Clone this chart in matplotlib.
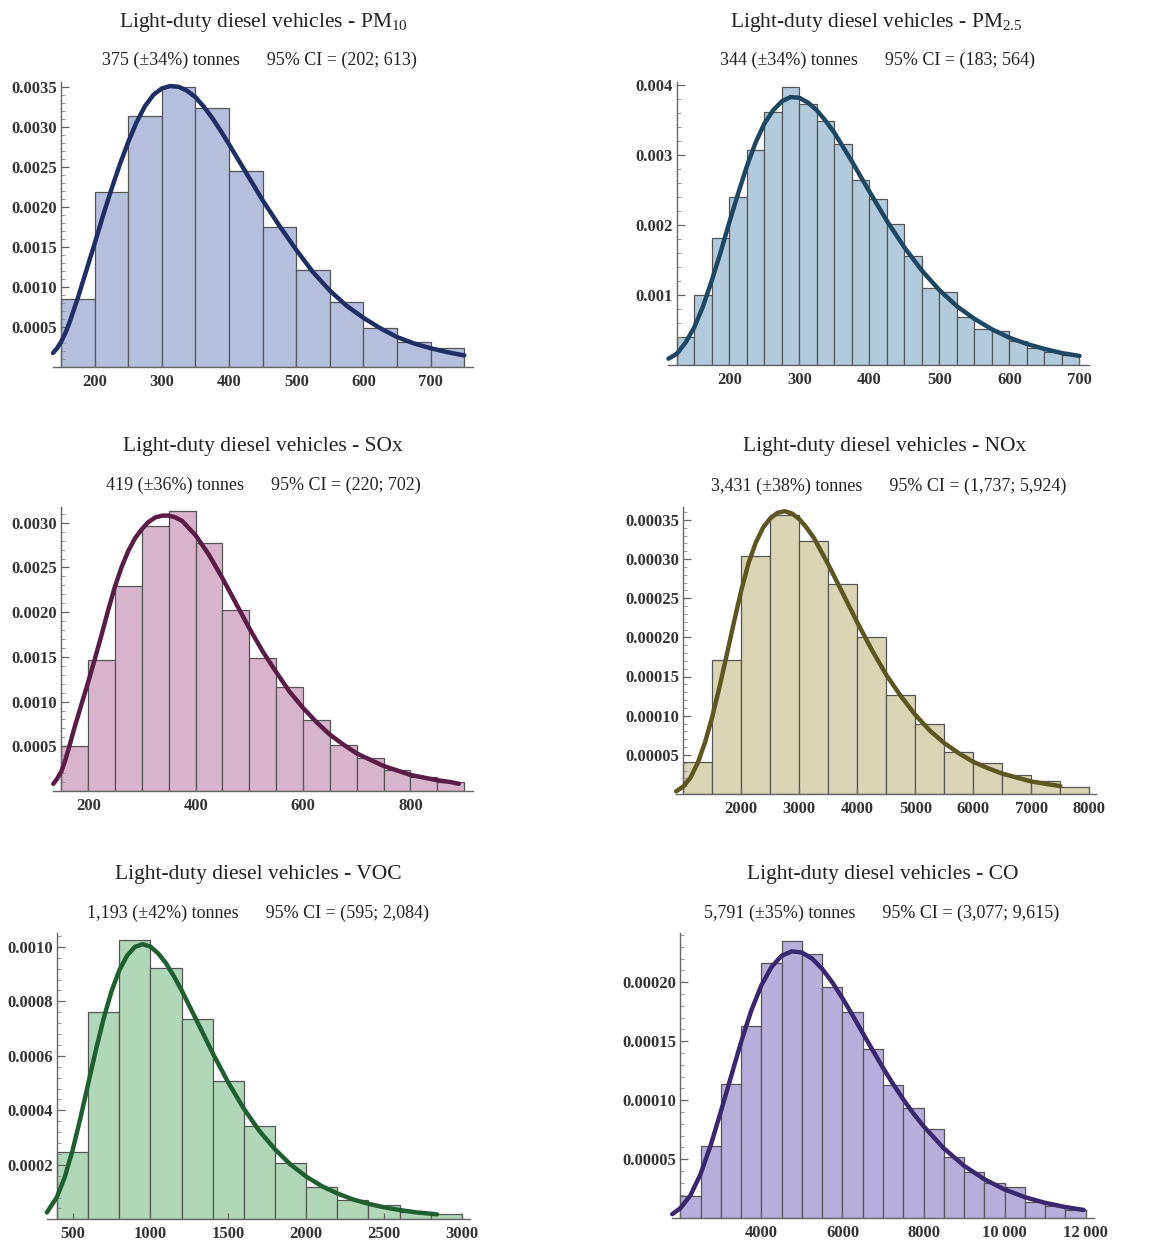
import matplotlib
matplotlib.use("Agg")
import matplotlib.pyplot as plt
import numpy as np
from matplotlib.ticker import AutoMinorLocator, FixedLocator

plt.rcParams['font.family'] = ['Liberation Serif', 'DejaVu Serif']
plt.rcParams['mathtext.fontset'] = 'custom'
plt.rcParams['mathtext.rm'] = 'Liberation Serif'
plt.rcParams['mathtext.default'] = 'regular'

# ---------------------------
# data
# ---------------------------
pm10_edges = [150, 200, 250, 300, 350, 400, 450, 500, 550, 600, 650, 700, 750]
pm10_heights = [0.00084, 0.00219, 0.00314, 0.00350, 0.00323, 0.00245, 0.00175,
                0.00121, 0.00081, 0.00048, 0.00031, 0.00023]
pm10_curve_x = [138, 144, 150, 156, 162.5, 175, 187.5, 200, 212.5, 225, 237.5,
                250, 262.5, 275, 287.5, 300, 312.5, 325, 337.5, 350, 362.5, 375,
                387.5, 400, 425, 450, 475, 500, 525, 550, 575, 600, 625, 650,
                675, 700, 725, 750]
pm10_curve_y = [0.00017, 0.00023, 0.00031, 0.00041, 0.00055, 0.00086, 0.00120,
                0.00154, 0.00189, 0.00222, 0.00253, 0.00281, 0.00306, 0.00326,
                0.00340, 0.00348, 0.00351, 0.00350, 0.00345, 0.00337, 0.00325,
                0.00311, 0.00295, 0.00278, 0.00243, 0.00208, 0.00176, 0.00146,
                0.00118, 0.00095, 0.00076, 0.00061, 0.00048, 0.00037, 0.00029,
                0.00023, 0.00018, 0.00014]

pm25_edges = [125, 150, 175, 200, 225, 250, 275, 300, 325, 350, 375, 400, 425,
              450, 475, 500, 525, 550, 575, 600, 625, 650, 675, 700]
pm25_heights = [0.00040, 0.00100, 0.00181, 0.00240, 0.00307, 0.00362, 0.00398,
                0.00373, 0.00349, 0.00316, 0.00264, 0.00238, 0.00202, 0.00156,
                0.00110, 0.00105, 0.00069, 0.00052, 0.00048, 0.00035, 0.00024,
                0.00019, 0.00014]
pm25_curve_x = [113, 125, 137.5, 150, 162.5, 175, 187.5, 200, 212.5, 225, 237.5,
                250, 262.5, 275, 287.5, 300, 312.5, 325, 337.5, 350, 375, 400,
                425, 450, 475, 500, 525, 550, 575, 600, 625, 650, 675, 700]
pm25_curve_y = [0.00009, 0.00016, 0.00032, 0.00054, 0.00084, 0.00121, 0.00161,
                0.00204, 0.00245, 0.00284, 0.00318, 0.00345, 0.00364, 0.00377,
                0.00383, 0.00382, 0.00375, 0.00364, 0.00349, 0.00332, 0.00291,
                0.00248, 0.00206, 0.00168, 0.00135, 0.00107, 0.00084, 0.00066,
                0.00051, 0.00039, 0.00030, 0.00023, 0.00017, 0.00013]

sox_edges = [150, 200, 250, 300, 350, 400, 450, 500, 550, 600, 650, 700, 750,
             800, 850, 900]
sox_heights = [0.00050, 0.00146, 0.00229, 0.00296, 0.00313, 0.00277, 0.00202,
               0.00149, 0.00116, 0.00079, 0.00051, 0.00037, 0.00024, 0.00016,
               0.00010]
sox_curve_x = [135, 142.5, 150, 156, 162.5, 175, 187.5, 200, 212.5, 225, 237.5,
               250, 262.5, 275, 287.5, 300, 312.5, 325, 337.5, 350, 362.5, 375,
               400, 425, 450, 475, 500, 525, 550, 575, 600, 625, 650, 675, 700,
               725, 750, 775, 800, 825, 850, 875, 890]
sox_curve_y = [0.00008, 0.00014, 0.00022, 0.00032, 0.00045, 0.00072, 0.00097,
               0.00122, 0.00148, 0.00175, 0.00203, 0.00229, 0.00251, 0.00269,
               0.00283, 0.00293, 0.00301, 0.00306, 0.00308, 0.00308, 0.00306,
               0.00302, 0.00286, 0.00264, 0.00238, 0.00210, 0.00182, 0.00156,
               0.00133, 0.00111, 0.00093, 0.00077, 0.00063, 0.00052, 0.00042,
               0.00035, 0.00028, 0.00023, 0.00018, 0.00015, 0.00012, 0.00010,
               0.00008]

nox_edges = [1000, 1500, 2000, 2500, 3000, 3500, 4000, 4500, 5000, 5500, 6000,
             6500, 7000, 7500, 8000]
nox_heights = [0.000041, 0.000171, 0.000304, 0.000356, 0.000323, 0.000268,
               0.000200, 0.000127, 0.000090, 0.000054, 0.000039, 0.000024,
               0.000016, 0.000009]
nox_curve_x = [875, 1000, 1125, 1250, 1375, 1500, 1625, 1750, 1875, 2000, 2125,
               2250, 2375, 2500, 2625, 2750, 2875, 3000, 3125, 3250, 3500, 3750,
               4000, 4250, 4500, 4750, 5000, 5250, 5500, 5750, 6000, 6250, 6500,
               6750, 7000, 7250, 7500]
nox_curve_y = [0.0000034, 0.0000095, 0.000021, 0.000040, 0.000066, 0.000099,
               0.000137, 0.000178, 0.000220, 0.000260, 0.000295, 0.000321,
               0.000340, 0.000352, 0.000359, 0.000361, 0.000358, 0.000351,
               0.000340, 0.000327, 0.000293, 0.000256, 0.000219, 0.000184,
               0.000152, 0.000125, 0.000101, 0.000081, 0.000065, 0.000052,
               0.000041, 0.000033, 0.000026, 0.000021, 0.000016, 0.000013,
               0.000010]

voc_edges = [400, 600, 800, 1000, 1200, 1400, 1600, 1800, 2000, 2200, 2400,
             2600, 2800, 3000]
voc_heights = [0.000248, 0.000762, 0.001025, 0.000921, 0.000734, 0.000508,
               0.000343, 0.000206, 0.000117, 0.000071, 0.000053, 0.000028,
               0.000020]
voc_curve_x = [335, 400, 450, 500, 550, 600, 650, 700, 750, 800, 850, 900, 950,
               1000, 1050, 1100, 1150, 1200, 1300, 1400, 1500, 1600, 1700, 1800,
               1900, 2000, 2100, 2200, 2300, 2400, 2500, 2600, 2700, 2840]
voc_curve_y = [0.000025, 0.000082, 0.000155, 0.000253, 0.000370, 0.000497,
               0.000622, 0.000738, 0.000837, 0.000914, 0.000968, 0.001000,
               0.001010, 0.001001, 0.000976, 0.000940, 0.000893, 0.000841,
               0.000726, 0.000610, 0.000502, 0.000406, 0.000324, 0.000257,
               0.000201, 0.000157, 0.000122, 0.000095, 0.000073, 0.000057,
               0.000044, 0.000034, 0.000026, 0.000018]

co_edges = [2000, 2500, 3000, 3500, 4000, 4500, 5000, 5500, 6000, 6500, 7000,
            7500, 8000, 8500, 9000, 9500, 10000, 10500, 11000, 11500, 12000]
co_heights = [0.0000189, 0.0000613, 0.0001136, 0.0001633, 0.000216, 0.000235,
              0.000224, 0.000196, 0.000175, 0.0001435, 0.0001133, 0.0000938,
              0.0000754, 0.0000517, 0.0000395, 0.0000297, 0.0000268, 0.0000141,
              0.0000105, 0.0000071]
co_curve_x = [1800, 2000, 2250, 2500, 2750, 3000, 3250, 3500, 3750, 4000, 4250,
              4500, 4750, 5000, 5250, 5500, 5750, 6000, 6250, 6500, 6750, 7000,
              7250, 7500, 7750, 8000, 8500, 9000, 9500, 10000, 10500, 11000,
              11500, 11950]
co_curve_y = [0.0000035, 0.0000085, 0.0000195, 0.0000375, 0.0000620, 0.0000905,
              0.0001200, 0.0001495, 0.0001760, 0.0001975, 0.0002130, 0.0002225,
              0.0002262, 0.0002252, 0.0002201, 0.0002114, 0.0001999, 0.0001865,
              0.0001720, 0.0001570, 0.0001421, 0.0001275, 0.0001137, 0.0001008,
              0.0000888, 0.0000780, 0.0000593, 0.0000445, 0.0000331, 0.0000244,
              0.0000179, 0.0000131, 0.0000095, 0.0000071]

titles = ["Light-duty diesel vehicles - PM$_{10}$",
          "Light-duty diesel vehicles - PM$_{2.5}$",
          "Light-duty diesel vehicles - SOx",
          "Light-duty diesel vehicles - NOx",
          "Light-duty diesel vehicles - VOC",
          "Light-duty diesel vehicles - CO"]
subtitles = ["375 (\u00b134%) tonnes      95% CI = (202; 613)",
             "344 (\u00b134%) tonnes      95% CI = (183; 564)",
             "419 (\u00b136%) tonnes      95% CI = (220; 702)",
             "3,431 (\u00b138%) tonnes      95% CI = (1,737; 5,924)",
             "1,193 (\u00b142%) tonnes      95% CI = (595; 2,084)",
             "5,791 (\u00b135%) tonnes      95% CI = (3,077; 9,615)"]

W, H = 1172, 1247
fig = plt.figure(figsize=(W / 100, H / 100), dpi=100)


def px_box(l, r, t, b):
    return [l / W, 1 - b / H, (r - l) / W, (b - t) / H]


panels = [
    dict(edges=pm10_edges, h=pm10_heights, cx=pm10_curve_x, cy=pm10_curve_y,
         box=(53, 473, 82, 366.6), xlim=(138, 763), ylim=0.00356, x0=150,
         fill='#b4bedd', line='#1f2f66',
         yt=[0.0005, 0.0010, 0.0015, 0.0020, 0.0025, 0.0030, 0.0035], yfmt='%.4f',
         xt=[200, 300, 400, 500, 600, 700], xl=None,
         tc=(263, 22), sc=(259, 60)),
    dict(edges=pm25_edges, h=pm25_heights, cx=pm25_curve_x, cy=pm25_curve_y,
         box=(667.7, 1089.3, 81.7, 365), xlim=(112, 714), ylim=0.00405, x0=125,
         fill='#b2cbdc', line='#1d4763',
         yt=[0.001, 0.002, 0.003, 0.004], yfmt='%.3f',
         xt=[200, 300, 400, 500, 600, 700], xl=None,
         tc=(876, 22), sc=(878, 60)),
    dict(edges=sox_edges, h=sox_heights, cx=sox_curve_x, cy=sox_curve_y,
         box=(53.3, 473.3, 506.7, 791), xlim=(135, 917), ylim=0.00318, x0=150,
         fill='#d8b3cc', line='#5b1d45',
         yt=[0.0005, 0.0010, 0.0015, 0.0020, 0.0025, 0.0030], yfmt='%.4f',
         xt=[200, 400, 600, 800], xl=None,
         tc=(263, 446), sc=(263, 485)),
    dict(edges=nox_edges, h=nox_heights, cx=nox_curve_x, cy=nox_curve_y,
         box=(676, 1096, 507.3, 794), xlim=(874, 8115), ylim=0.000366, x0=1000,
         fill='#d8d4b4', line='#5c5720',
         yt=[0.00005, 0.00010, 0.00015, 0.00020, 0.00025, 0.00030, 0.00035],
         yfmt='%.5f',
         xt=[2000, 3000, 4000, 5000, 6000, 7000, 8000], xl=None,
         tc=(885, 447), sc=(889, 486)),
    dict(edges=voc_edges, h=voc_heights, cx=voc_curve_x, cy=voc_curve_y,
         box=(46.7, 470, 933.3, 1219.3), xlim=(334, 3052), ylim=0.00105, x0=400,
         fill='#b0d8b8', line='#1e6030',
         yt=[0.0002, 0.0004, 0.0006, 0.0008, 0.0010], yfmt='%.4f',
         xt=[500, 1000, 1500, 2000, 2500, 3000], xl=None,
         tc=(258, 875), sc=(258, 913)),
    dict(edges=co_edges, h=co_heights, cx=co_curve_x, cy=co_curve_y,
         box=(672, 1094.3, 933.3, 1218.3), xlim=(1795, 12212), ylim=0.0002415,
         x0=2000, fill='#b8aedb', line='#3b2670',
         yt=[0.00005, 0.00010, 0.00015, 0.00020], yfmt='%.5f',
         xt=[4000, 6000, 8000, 10000, 12000],
         xl=['4000', '6000', '8000', '10\u2009000', '12\u2009000'],
         tc=(883, 875), sc=(882, 913)),
]

for p, title, sub in zip(panels, titles, subtitles):
    ax = fig.add_axes(px_box(*p['box']))
    edges = np.array(p['edges'])
    ax.bar(edges[:-1], p['h'], width=np.diff(edges), align='edge',
           color=p['fill'], edgecolor='#555555', linewidth=0.9, zorder=1)
    ax.plot(p['cx'], p['cy'], color=p['line'], linewidth=3.2,
            solid_capstyle='round', solid_joinstyle='round', zorder=3,
            clip_on=False)
    ax.set_xlim(*p['xlim'])
    ax.set_ylim(0, p['ylim'])

    for s in ('top', 'right'):
        ax.spines[s].set_visible(False)
    ax.spines['left'].set_position(('data', p['x0']))
    ax.spines['left'].set_color('#666666')
    ax.spines['bottom'].set_color('#666666')
    ax.spines['left'].set_linewidth(1.0)
    ax.spines['bottom'].set_linewidth(1.0)
    ax.patch.set_visible(False)

    ax.yaxis.set_major_locator(FixedLocator(p['yt']))
    ax.set_yticklabels([p['yfmt'] % v for v in p['yt']])
    ax.yaxis.set_minor_locator(AutoMinorLocator(5))
    ax.set_xticks(p['xt'])
    if p['xl'] is not None:
        ax.set_xticklabels(p['xl'])
    ax.tick_params(axis='y', which='major', direction='in', length=6,
                   width=0.9, color='#666666', pad=3)
    ax.tick_params(axis='y', which='minor', direction='in', length=3,
                   width=0.6, color='#888888')
    ax.tick_params(axis='x', which='major', direction='in', length=4,
                   width=0.9, color='#666666', pad=5)
    for lab in ax.get_xticklabels() + ax.get_yticklabels():
        lab.set_fontsize(12)
        lab.set_fontweight('bold')
        lab.set_color('#333333')

    fig.text(p['tc'][0] / W, 1 - p['tc'][1] / H, title, ha='center',
             va='center', fontsize=15.5, color='#222222')
    fig.text(p['sc'][0] / W, 1 - p['sc'][1] / H, sub, ha='center',
             va='center', fontsize=13, color='#222222')

fig.savefig("out.png", dpi=100)
